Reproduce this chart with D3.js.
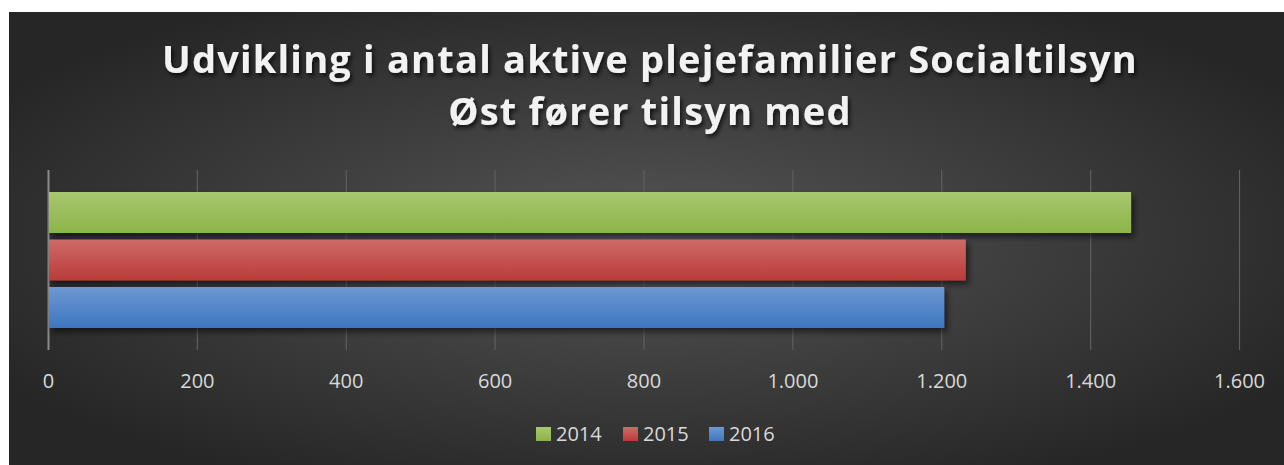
<!DOCTYPE html>
<html><head><meta charset="utf-8">
<script src="https://cdn.jsdelivr.net/npm/d3@7"></script>
<style>body{margin:0;background:#fff;}svg{display:block;}</style>
</head><body>
<script>
const categories = ["2014", "2015", "2016"];
const values = [1455, 1233, 1204];
const colorsTop = ["#a9c770", "#cf6b68", "#6d98d3"];
const colorsBottom = ["#8cb449", "#b93b37", "#3e76bf"];
const ticks = [0, 200, 400, 600, 800, 1000, 1200, 1400, 1600];
const titleLines = ["Udvikling i antal aktive plejefamilier Socialtilsyn", "Øst fører tilsyn med"];

const W = 1284, H = 465;
const svg = d3.select("body").append("svg").attr("width", W).attr("height", H);
const defs = svg.append("defs");
const rg = defs.append("radialGradient").attr("id", "bg").attr("cx", "50%").attr("cy", "50%").attr("r", "60%")
  .attr("gradientUnits", "objectBoundingBox");
rg.append("stop").attr("offset", "0%").attr("stop-color", "#555555");
rg.append("stop").attr("offset", "100%").attr("stop-color", "#262626");
categories.forEach((c, i) => {
  const lg = defs.append("linearGradient").attr("id", "g" + i).attr("x1", 0).attr("y1", 0).attr("x2", 0).attr("y2", 1);
  lg.append("stop").attr("offset", "0%").attr("stop-color", colorsTop[i]);
  lg.append("stop").attr("offset", "100%").attr("stop-color", colorsBottom[i]);
});
const f = defs.append("filter").attr("id", "sh").attr("x", "-5%").attr("y", "-20%").attr("width", "115%").attr("height", "160%");
f.append("feDropShadow").attr("dx", 3).attr("dy", 4).attr("stdDeviation", 3).attr("flood-color", "#000").attr("flood-opacity", 0.55);
const ft = defs.append("filter").attr("id", "tsh").attr("x", "-5%").attr("y", "-20%").attr("width", "110%").attr("height", "160%");
ft.append("feDropShadow").attr("dx", 2).attr("dy", 3).attr("stdDeviation", 2).attr("flood-color", "#000").attr("flood-opacity", 0.7);

svg.append("rect").attr("x", 9).attr("y", 12).attr("width", W - 9).attr("height", H - 12).attr("fill", "url(#bg)");

// title
const title = svg.append("text").attr("text-anchor", "middle")
  .attr("font-family", "'Open Sans', sans-serif").attr("font-weight", "bold").attr("font-size", 38)
  .attr("letter-spacing", "1.2px").attr("fill", "#f2f2f2").attr("filter", "url(#tsh)");
titleLines.forEach((t, i) => {
  title.append("tspan").attr("x", 650).attr("y", 73 + i * 52).text(t);
});

const x = d3.scaleLinear().domain([0, 1600]).range([48, 1239]);
const y = d3.scaleBand().domain(categories).range([192, 328]).paddingInner(0.137).paddingOuter(0);

// gridlines
const axisG = svg.append("g").attr("transform", "translate(0,350)")
  .call(d3.axisBottom(x).tickValues(ticks).tickSize(-180).tickPadding(0).tickFormat(d => d3.format(",")(d).replace(/,/g, ".")));
axisG.select(".domain").remove();
axisG.selectAll(".tick line").attr("stroke", "#5e5e5e").attr("stroke-width", 1.2);
axisG.selectAll(".tick text").attr("fill", "#d9d9d9").attr("font-family", "'Open Sans', sans-serif")
  .attr("font-size", 20).attr("y", 38).attr("dy", 0);
axisG.selectAll(".tick").filter(d => d === 0).select("line").attr("stroke", "#8a8a8a").attr("stroke-width", 2);

// bars
svg.append("g").selectAll("rect").data(categories).join("rect")
  .attr("x", x(0) + 1).attr("y", d => y(d))
  .attr("width", (d, i) => x(values[i]) - x(0) - 1).attr("height", y.bandwidth())
  .attr("fill", (d, i) => `url(#g${i})`).attr("filter", "url(#sh)");

// legend
const leg = svg.append("g");
const legX = [536, 623, 709];
categories.forEach((c, i) => {
  leg.append("rect").attr("x", legX[i]).attr("y", 427).attr("width", 15).attr("height", 14).attr("fill", `url(#g${i})`);
  leg.append("text").attr("x", legX[i] + 20).attr("y", 441).attr("fill", "#d9d9d9")
    .attr("font-family", "'Open Sans', sans-serif").attr("font-size", 20).text(c);
});
</script>
</body></html>
